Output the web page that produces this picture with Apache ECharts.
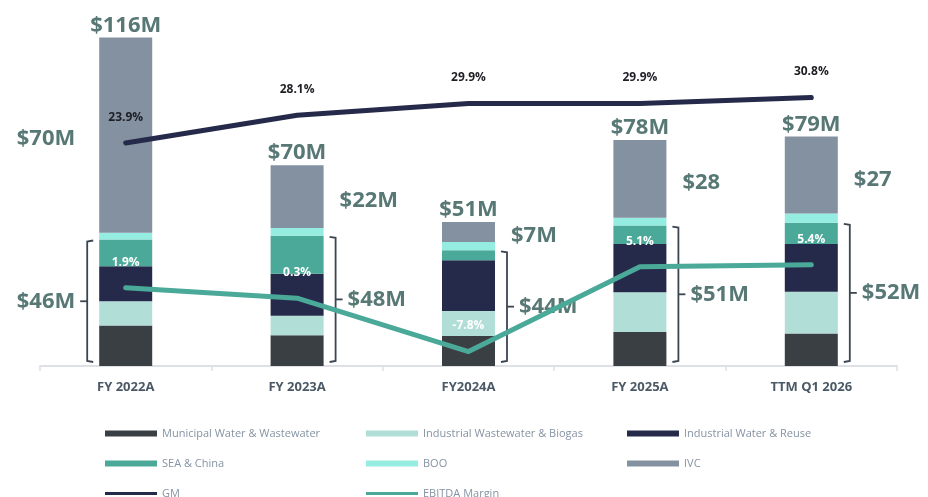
<!DOCTYPE html>
<html>
<head>
<meta charset="utf-8">
<script src="https://cdn.jsdelivr.net/npm/echarts@6/dist/echarts.min.js"></script>
<style>
  html, body { margin: 0; padding: 0; background: #fff; }
  #chart { width: 928px; height: 497px; }
</style>
</head>
<body>
<div id="chart"></div>
<script>
// categories and series values ($M)
const categories = ['FY 2022A', 'FY 2023A', 'FY2024A', 'FY 2025A', 'TTM Q1 2026'];
const municipal = [14.3, 10.8, 10.6, 12.0, 11.5];
const industrialWastewater = [8.5, 6.9, 8.8, 14.0, 14.7];
const industrialWater = [12.4, 14.8, 17.9, 17.0, 16.8];
const seaChina = [9.4, 13.4, 3.5, 6.5, 7.5];
const boo = [2.4, 2.8, 2.9, 2.8, 3.3];
const ivc = [68.8, 22.1, 7.1, 27.4, 27.1];
// margins (%)
const gm = [23.9, 28.1, 29.9, 29.9, 30.8];
const ebitda = [1.9, 0.3, -7.8, 5.1, 5.4];
// text labels
const totalLabels = ['$116M', '$70M', '$51M', '$78M', '$79M'];
const coreLabels = ['$46M', '$48M', '$44M', '$51M', '$52M'];
const otherLabels = ['$70M', '$22M', '$7M', '$28', '$27'];
const bracketSide = ['left', 'right', 'right', 'right', 'right'];

const colors = {
  municipal: '#3a3f43',
  iwb: '#b2ded8',
  iwr: '#252a4a',
  sea: '#4aa998',
  boo: '#95ece0',
  ivc: '#8391a1'
};
const bigLabel = '#587876';
const barW = 53;

var myChart = echarts.init(document.getElementById('chart'));

const coreSum = categories.map((c, i) => municipal[i] + industrialWastewater[i] + industrialWater[i] + seaChina[i]);
const totals = categories.map((c, i) => coreSum[i] + boo[i] + ivc[i]);

function barSeries (name, data, color, extra) {
  return Object.assign({
    name: name,
    type: 'bar',
    stack: 'rev',
    barWidth: barW,
    itemStyle: { color: color },
    emphasis: { disabled: true },
    data: data
  }, extra || {});
}

function lineSeries (name, data, color, labelColor) {
  return {
    name: name,
    type: 'line',
    yAxisIndex: 1,
    z: 5,
    symbol: 'circle',
    symbolSize: 1,
    showSymbol: true,
    lineStyle: { color: color, width: 5, cap: 'round', join: 'round' },
    itemStyle: { color: color },
    label: {
      show: true,
      position: 'top',
      distance: 19,
      formatter: (p) => p.value.toFixed(1) + '%',
      fontSize: 12,
      fontWeight: 'bold',
      color: labelColor
    },
    labelLayout: { hideOverlap: false },
    emphasis: { disabled: true },
    data: data
  };
}

// bracket + side labels next to each bar
function renderBracket (params, api) {
  const i = api.value(0);
  const base = api.coord([i, 0]);
  const top = api.coord([i, api.value(1)]);
  const upperMid = api.coord([i, (api.value(1) + api.value(2)) / 2]);
  const dir = bracketSide[i] === 'left' ? -1 : 1;
  const edge = base[0] + dir * barW / 2;
  const vx = edge + dir * 12;
  const yTop = top[1] + 1;
  const yBot = base[1] - 4;
  const yMid = (yTop + yBot) / 2;
  const lineStyle = { stroke: '#3b4652', lineWidth: 1.8, fill: null };
  const font = 'bold 22px "Open Sans"';
  return {
    type: 'group',
    children: [
      {
        type: 'polyline',
        shape: { points: [[vx - dir * 6, yTop], [vx, yTop + 1], [vx, yBot - 1], [vx - dir * 6, yBot]] },
        style: lineStyle
      },
      {
        type: 'line',
        shape: { x1: vx, y1: yMid, x2: vx + dir * 7, y2: yMid },
        style: lineStyle
      },
      {
        type: 'text',
        x: vx + dir * 12,
        y: yMid,
        style: {
          text: coreLabels[i], font: font, fill: bigLabel,
          align: dir > 0 ? 'left' : 'right', verticalAlign: 'middle'
        }
      },
      {
        type: 'text',
        x: dir > 0 ? edge + 16 : vx + dir * 12,
        y: upperMid[1],
        style: {
          text: otherLabels[i], font: font, fill: bigLabel,
          align: dir > 0 ? 'left' : 'right', verticalAlign: 'middle'
        }
      }
    ]
  };
}

const seriesNames = ['Municipal Water & Wastewater', 'Industrial Wastewater & Biogas', 'Industrial Water & Reuse',
  'SEA & China', 'BOO', 'IVC', 'GM', 'EBITDA Margin'];

const legendText = { color: '#8693a3', fontSize: 11, fontFamily: 'Open Sans' };
const legends = seriesNames.map((name, idx) => ({
  data: [name],
  left: 105 + (idx % 3) * 261,
  top: 428 + Math.floor(idx / 3) * 30,
  padding: 0,
  icon: 'rect',
  itemWidth: 52,
  itemHeight: idx >= 6 ? 3 : 6,
  selectedMode: false,
  textStyle: legendText
}));

let option = {
  animation: false,
  textStyle: { fontFamily: 'Open Sans' },
  legend: legends,
  grid: {
    left: 40,
    right: 31,
    top: 37,
    bottom: 131
  },
  xAxis: {
    type: 'category',
    data: categories,
    axisLine: { lineStyle: { color: '#dde1e6', width: 2 } },
    axisTick: { show: true, interval: 0, length: 5, lineStyle: { color: '#dde1e6', width: 1.5 } },
    axisLabel: {
      interval: 0,
      margin: 15,
      fontSize: 13,
      fontWeight: 'bold',
      color: '#4b5966'
    }
  },
  yAxis: [
    { type: 'value', min: 0, max: 116, show: false, splitLine: { show: false } },
    { type: 'value', min: -10, max: 40, show: false, splitLine: { show: false } }
  ],
  series: [
    barSeries(seriesNames[0], municipal, colors.municipal),
    barSeries(seriesNames[1], industrialWastewater, colors.iwb),
    barSeries(seriesNames[2], industrialWater, colors.iwr),
    barSeries(seriesNames[3], seaChina, colors.sea),
    barSeries(seriesNames[4], boo, colors.boo),
    barSeries(seriesNames[5], ivc, colors.ivc, {
      label: {
        show: true,
        position: 'top',
        distance: 1,
        formatter: (p) => totalLabels[p.dataIndex],
        fontSize: 22,
        fontWeight: 'bold',
        color: bigLabel
      }
    }),
    lineSeries(seriesNames[6], gm, colors.iwr, '#1e1e24'),
    lineSeries(seriesNames[7], ebitda, colors.sea, '#ffffff'),
    {
      type: 'custom',
      z: 4,
      clip: false,
      silent: true,
      renderItem: renderBracket,
      data: categories.map((c, i) => [i, coreSum[i], totals[i]])
    }
  ]
};

myChart.setOption(option);
</script>
</body>
</html>
